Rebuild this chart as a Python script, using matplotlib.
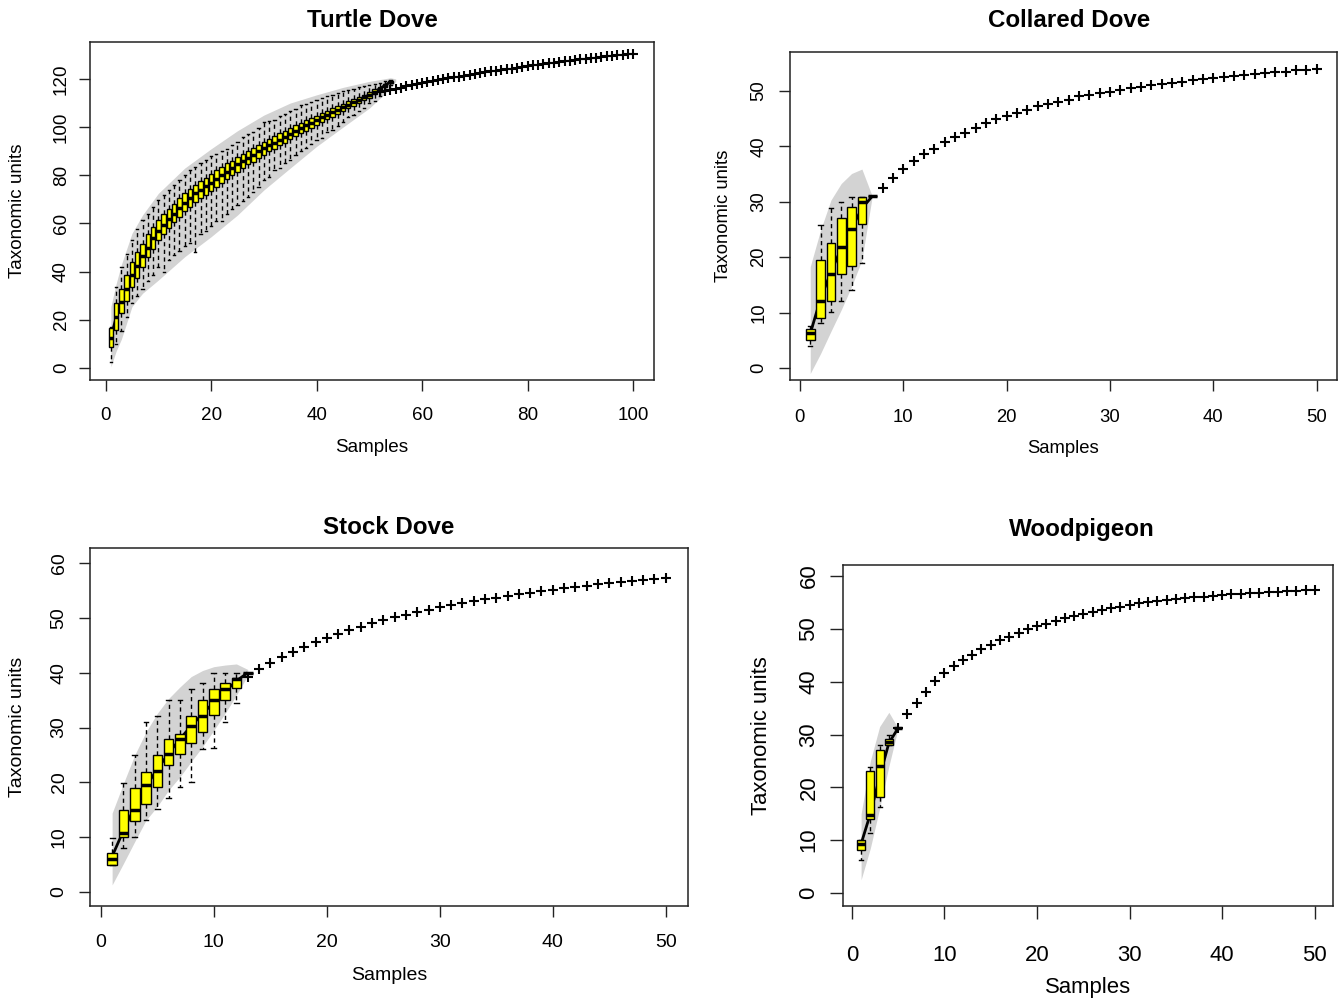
import matplotlib
matplotlib.use('Agg')
import matplotlib.pyplot as plt
import numpy as np

plt.rcParams['font.family'] = ['Liberation Sans', 'DejaVu Sans']

# ---- Turtle Dove: boxplots for samples 1..54, extrapolated curve to 100
td_samples = list(range(1, 55))
td_med = [12.6, 21, 27.5, 33, 38.5, 42.5, 46.5, 50, 54, 57,
          59.5, 62, 64, 66.5, 68.5, 70.5, 72.5, 74, 75.5, 77,
          78.5, 80, 81.5, 83, 84.5, 86, 87.2, 88.5, 90, 91.2,
          92.5, 93.6, 94.8, 96, 97.2, 98.4, 99.5, 100.7, 101.8, 103,
          104, 105, 106.1, 107.2, 108.3, 109.3, 110.3, 111.4, 112.4, 113.4,
          114.7, 116, 117.4, 118.8]
td_q1 = [8.6, 15.8, 22.7, 28, 33.8, 37.5, 42, 46, 49.5, 53,
         55.5, 58, 60.5, 62.5, 65, 67, 69, 70.5, 72, 73.5,
         75, 77, 78.5, 80, 81.5, 83, 84.5, 85.5, 87, 88.5,
         90, 91, 92.5, 93.6, 95, 96.2, 97.4, 98.6, 99.8, 101,
         102, 103.2, 104.3, 105.5, 106.6, 107.8, 108.8, 110, 111.1, 112.2,
         113.6, 115, 116.6, 118.3]
td_q3 = [16.5, 27, 33, 38.5, 44, 48, 51.5, 55.5, 58.5, 61.5,
         64, 66, 68, 70.5, 72.5, 74.5, 76, 77.5, 79, 80.5,
         82, 83.5, 85, 86, 87.5, 89, 90, 91.5, 92.5, 94,
         95, 96.2, 97.4, 98.5, 99.6, 100.7, 101.7, 102.8, 103.8, 104.8,
         105.8, 106.8, 107.8, 108.8, 109.8, 110.7, 111.6, 112.6, 113.5, 114.5,
         115.7, 116.8, 118, 119.2]
td_lo = [2.6, 10, 15.5, 21, 27, 30, 33, 36, 38.5, 42,
         40, 45, 47, 48.5, 50.5, 52, 48, 55.5, 57, 59,
         61, 61, 64, 66, 67.5, 69.5, 71, 73, 75, 78,
         79.5, 82, 83, 85, 86.5, 88.5, 90, 91.5, 93, 94.7,
         95.5, 98, 99, 100.5, 102, 104, 105, 106.5, 108, 110,
         111, 113, 115.5, 117.5]
td_hi = [17, 33.8, 42, 47.5, 53, 57.5, 61.5, 64, 67, 69.8,
         72, 74, 76, 78, 80, 82, 83.5, 85, 86.5, 88,
         89, 90, 91, 92.5, 94, 96, 97, 98, 99.5, 102,
         102.5, 103, 104.5, 105.5, 106.5, 107.5, 109, 109.5, 110.5, 111.3,
         112, 113, 113.5, 114, 115, 115.5, 116, 116.5, 117, 117.5,
         118, 118.5, 119, 119.5]
td_ci_x = [1, 2, 3, 5, 7, 10, 15, 20, 25, 30, 35, 40, 45, 50, 54, 55]
td_ci_hi = [25.5, 35, 43, 55.9, 63.5, 72.5, 83, 91, 98.5, 105, 110, 113.4, 116.5, 119, 120.5, 120]
td_ci_lo = [0.5, 7, 12, 25.5, 31, 36.5, 46.2, 54.5, 63.5, 73.9, 83, 92, 100, 107.9, 116, 119]
td_ext_x = list(range(52, 101))
td_ext_y = [114.5, 115.0, 115.4, 115.9, 116.4, 116.9, 117.3, 117.8, 118.2, 118.6,
            119.0, 119.5, 119.9, 120.3, 120.7, 121.0, 121.4, 121.7, 122.1, 122.4,
            122.7, 123.1, 123.4, 123.7, 124.0, 124.3, 124.6, 125.0, 125.3, 125.6,
            125.9, 126.2, 126.5, 126.8, 127.1, 127.4, 127.6, 127.9, 128.2, 128.4,
            128.7, 128.9, 129.2, 129.4, 129.6, 129.8, 130.0, 130.2, 130.4]

# ---- Collared Dove
cd_samples = list(range(1, 8))
cd_med = [6.3, 12.0, 17.0, 21.9, 25.0, 30.0, 31.0]
cd_q1 = [5.05, 9.0, 12.0, 17.0, 18.4, 26.0, 31.0]
cd_q3 = [7.0, 19.5, 22.5, 27.0, 29.0, 30.9, 31.0]
cd_lo = [4.0, 8.1, 10.1, 12.0, 14.1, 19.0, 31.0]
cd_hi = [7.5, 25.8, 28.8, 29.9, 30.8, 30.9, 31.0]
cd_mean = [6.2, 12.5, 17.3, 21.6, 25.2, 28.8, 31.0]
cd_ci_x = [1, 1, 2, 3, 4, 5, 6, 7]
cd_ci_hi = [-1.0, 18.3, 24.9, 30.3, 33.3, 35.1, 35.9, 31.0]
cd_ci_lo = [-1.0, -1.0, 2.6, 6.6, 10.5, 14.7, 19.5, 31.0]
cd_ext_x = list(range(8, 51))
cd_ext_y = [32.4, 34.2, 35.9, 37.4, 38.6, 39.5, 40.7, 41.6, 42.5, 43.4,
            44.2, 44.9, 45.5, 46.1, 46.6, 47.2, 47.7, 48.0, 48.4, 49.0,
            49.3, 49.6, 49.9, 50.2, 50.6, 50.8, 51.0, 51.3, 51.5, 51.7,
            52.0, 52.2, 52.4, 52.6, 52.7, 52.9, 53.1, 53.2, 53.4, 53.5,
            53.7, 53.8, 54.0]

# ---- Stock Dove
sd_samples = list(range(1, 14))
sd_med = [6.0, 10.8, 15.0, 19.5, 22.1, 25.1, 28.0, 30.2, 32.1, 35.1, 37.1, 38.8, 40.0]
sd_q1 = [4.9, 10.0, 13.0, 16.0, 19.1, 23.2, 25.2, 27.1, 29.2, 32.3, 35.1, 37.3, 40.0]
sd_q3 = [7.1, 15.0, 18.9, 21.9, 25.0, 28.0, 28.9, 32.1, 35.0, 37.0, 38.1, 39.0, 40.0]
sd_lo = [4.9, 8.0, 10.0, 13.1, 15.1, 17.1, 19.1, 20.1, 26.0, 26.2, 31.1, 34.4, 40.0]
sd_hi = [9.8, 19.9, 25.0, 31.1, 32.1, 35.0, 35.0, 37.1, 38.1, 40.0, 40.0, 40.0, 40.0]
sd_mean = [6.5, 11.2, 15.5, 19.3, 22.4, 25.3, 27.9, 30.3, 32.5, 34.6, 36.6, 38.5, 40.0]
sd_ci_x = list(range(1, 14))
sd_ci_hi = [14.4, 19.8, 25.0, 29.2, 32.6, 35.3, 37.4, 39.3, 40.4, 41.1, 41.4, 41.6, 40.6]
sd_ci_lo = [1.3, 5.2, 9.2, 13.1, 15.6, 18.6, 21.0, 23.8, 26.5, 29.5, 32.6, 35.9, 39.5]
sd_ext_x = list(range(13, 51))
sd_ext_y = [39.3, 40.6, 41.7, 42.8, 43.8, 44.7, 45.6, 46.4, 47.1, 47.8,
            48.4, 49.0, 49.6, 50.1, 50.6, 51.0, 51.5, 51.9, 52.3, 52.7,
            53.0, 53.4, 53.7, 54.0, 54.3, 54.6, 54.9, 55.1, 55.4, 55.6,
            55.9, 56.1, 56.3, 56.5, 56.7, 56.9, 57.1, 57.3]

# ---- Woodpigeon
wp_samples = list(range(1, 6))
wp_med = [9.3, 14.8, 24.1, 28.5, 31.2]
wp_q1 = [8.1, 14.1, 18.1, 28.0, 31.2]
wp_q3 = [10.0, 23.1, 27.1, 29.1, 31.2]
wp_lo = [6.2, 11.3, 16.2, 28.0, 31.2]
wp_hi = [10.0, 23.9, 28.0, 30.0, 31.2]
wp_mean = [9.3, 15.0, 22.0, 28.4, 31.2]
wp_ci_x = [1, 2, 3, 4, 5]
wp_ci_hi = [15.0, 25.0, 31.5, 34.2, 31.2]
wp_ci_lo = [2.5, 8.5, 16.0, 24.0, 31.2]
wp_ext_x = list(range(5, 51))
wp_ext_y = [31.2, 33.9, 36.0, 38.1, 40.1, 41.6, 43.0, 44.1, 45.0, 46.1,
            46.9, 47.8, 48.5, 49.3, 49.9, 50.5, 51.0, 51.5, 52.0, 52.4,
            52.8, 53.2, 53.6, 53.9, 54.2, 54.5, 54.8, 55.0, 55.2, 55.4,
            55.6, 55.8, 55.95, 56.1, 56.25, 56.4, 56.5, 56.6, 56.7, 56.8,
            56.9, 57.0, 57.1, 57.2, 57.3, 57.4]

FIG_W, FIG_H = 1341, 1001


def accum_panel(ax, title, samples, med, q1, q3, lo, hi, mean,
                ci_x, ci_hi, ci_lo, ext_x, ext_y,
                xlim, ylim, xticks, yticks, lay):
    '''specaccum-like plot: CI polygon, mean line, boxplots, extrapolation'''
    sc = lay['scale']
    ax.fill_between(ci_x, ci_lo, ci_hi, color='#D3D3D3', lw=0, zorder=1)
    ax.plot(samples, mean, color='k', lw=2, zorder=2, solid_capstyle='butt')
    stats = [dict(med=m, q1=a, q3=b, whislo=l, whishi=h, fliers=[])
             for m, a, b, l, h in zip(med, q1, q3, lo, hi)]
    ax.bxp(stats, positions=samples, widths=0.85, capwidths=0.42,
           patch_artist=True, manage_ticks=False, zorder=3,
           boxprops=dict(facecolor='#FFFF00', edgecolor='k', lw=1),
           whiskerprops=dict(color='k', ls=(0, (3, 2.5)), lw=1),
           capprops=dict(color='k', lw=1),
           medianprops=dict(color='k', lw=2.5, solid_capstyle='butt'))
    ax.plot(ext_x, ext_y, ls='none', marker='+', ms=7, mew=1.5,
            color='k', zorder=4)

    ax.set_xlim(xlim)
    ax.set_ylim(ylim)
    ax.set_xticks(xticks)
    ax.set_yticks(yticks)
    ax.tick_params(direction='out', length=8 * sc, width=1,
                   labelsize=13.6 * sc, color='#222222')
    ax.tick_params(axis='x', pad=lay['xpad'])
    ax.tick_params(axis='y', pad=lay['ypad'], labelrotation=90)
    for lab in ax.get_yticklabels():
        lab.set_va('center')
    for sp in ax.spines.values():
        sp.set_linewidth(1.1)
        sp.set_color('#222222')

    # axis titles placed at the distances (px)
    bb = ax.get_position()
    w_px, h_px = bb.width * FIG_W, bb.height * FIG_H
    ax.set_xlabel('Samples', fontsize=13.6 * sc)
    ax.xaxis.label.set_va('center')
    ax.xaxis.set_label_coords(0.5, -lay['xlab'] / h_px)
    ax.set_ylabel('Taxonomic units', fontsize=13.6 * sc)
    ax.yaxis.label.set_va('center')
    ax.yaxis.set_label_coords(-lay['ylab'] / w_px, 0.5)
    ax.set_title(title, fontsize=17.4, fontweight='bold', pad=lay['tpad'],
                 x=lay['tx'])


fig = plt.figure(figsize=(FIG_W / 100, FIG_H / 100), dpi=100)
ax1 = fig.add_axes([0.0671, 0.6204, 0.4206, 0.3377])
ax2 = fig.add_axes([0.5891, 0.6204, 0.4079, 0.3277])
ax3 = fig.add_axes([0.0671, 0.0949, 0.4459, 0.3576])
ax4 = fig.add_axes([0.6286, 0.0949, 0.3654, 0.3407])

lay1 = dict(scale=1.0, xpad=11.5, ypad=6.5, xlab=68, ylab=72, tpad=11, tx=0.5)
lay2 = dict(scale=0.98, xpad=12.9, ypad=8.6, xlab=69, ylab=66, tpad=18, tx=0.51)
lay3 = dict(scale=1.03, xpad=12.2, ypad=7.9, xlab=69, ylab=72, tpad=10.3, tx=0.5)
lay4 = dict(scale=1.17, xpad=18.5, ypad=7.6, xlab=81, ylab=81, tpad=21, tx=0.488)

accum_panel(ax1, 'Turtle Dove', td_samples, td_med, td_q1, td_q3, td_lo, td_hi,
            td_med, td_ci_x, td_ci_hi, td_ci_lo, td_ext_x, td_ext_y,
            (-2.96, 103.96), (-4.98, 135.37), range(0, 101, 20),
            range(0, 121, 20), lay1)
accum_panel(ax2, 'Collared Dove', cd_samples, cd_med, cd_q1, cd_q3, cd_lo, cd_hi,
            cd_mean, cd_ci_x, cd_ci_hi, cd_ci_lo, cd_ext_x, cd_ext_y,
            (-0.96, 51.96), (-2.17, 57.04), range(0, 51, 10),
            range(0, 51, 10), lay2)
accum_panel(ax3, 'Stock Dove', sd_samples, sd_med, sd_q1, sd_q3, sd_lo, sd_hi,
            sd_mean, sd_ci_x, sd_ci_hi, sd_ci_lo, sd_ext_x, sd_ext_y,
            (-0.96, 51.96), (-2.55, 62.74), range(0, 51, 10),
            range(0, 61, 10), lay3)
accum_panel(ax4, 'Woodpigeon', wp_samples, wp_med, wp_q1, wp_q3, wp_lo, wp_hi,
            wp_mean, wp_ci_x, wp_ci_hi, wp_ci_lo, wp_ext_x, wp_ext_y,
            (-0.96, 51.96), (-2.46, 62.09), range(0, 51, 10),
            range(0, 61, 10), lay4)

fig.savefig('out.png', dpi=100)
